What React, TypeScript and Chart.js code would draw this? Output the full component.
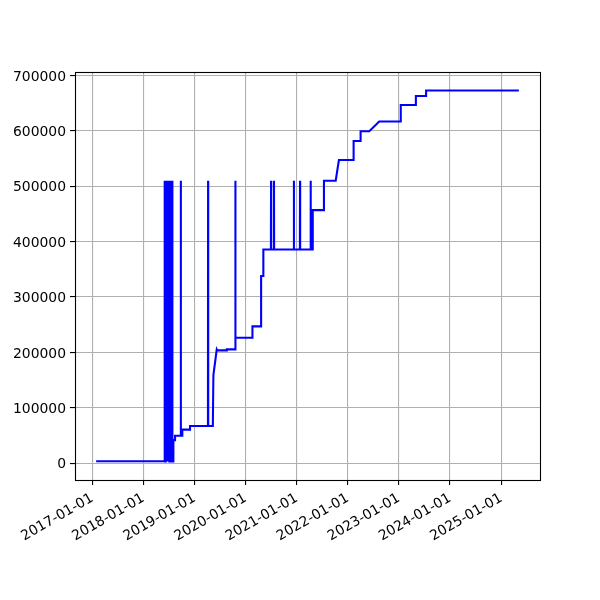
import React, { useEffect, useRef } from "react";
import { Chart, registerables } from "chart.js";

Chart.register(...registerables);

// Data points (date, value)
const dates: string[] = [
  "2017-01-28", "2018-05-31",
  "2018-06-02", "2018-06-05", "2018-06-08", "2018-06-11", "2018-06-14", "2018-06-17",
  "2018-06-20", "2018-06-23", "2018-06-26", "2018-06-29", "2018-07-02", "2018-07-05",
  "2018-07-08", "2018-07-11", "2018-07-14", "2018-07-17", "2018-07-20", "2018-07-23",
  "2018-07-25", "2018-07-27",
  "2018-08-03", "2018-08-03", "2018-08-15", "2018-08-15",
  "2018-09-24", "2018-09-25", "2018-09-26",
  "2018-10-06", "2018-10-06", "2018-11-30", "2018-11-30",
  "2019-04-07", "2019-04-08", "2019-04-09",
  "2019-05-12", "2019-05-16", "2019-06-09", "2019-06-13",
  "2019-08-20", "2019-08-20",
  "2019-10-19", "2019-10-20", "2019-10-21",
  "2020-02-19", "2020-02-19", "2020-04-21", "2020-04-21", "2020-05-07", "2020-05-07",
  "2020-06-30", "2020-07-01", "2020-07-02",
  "2020-07-21", "2020-07-22", "2020-07-23",
  "2020-12-10", "2020-12-11", "2020-12-12",
  "2021-01-23", "2021-01-24", "2021-01-25",
  "2021-04-09", "2021-04-10", "2021-04-11",
  "2021-04-25", "2021-04-25",
  "2021-07-14", "2021-07-14",
  "2021-10-06", "2021-10-29",
  "2022-02-11", "2022-02-11",
  "2022-04-02", "2022-04-02",
  "2022-06-03", "2022-08-13",
  "2023-01-14", "2023-01-14",
  "2023-05-02", "2023-05-02",
  "2023-07-14", "2023-07-14",
  "2025-05-07",
];

const values: number[] = [
  3500, 3500,
  510000, 3000, 510000, 3000, 510000, 3000,
  510000, 3000, 510000, 3000, 510000, 3000,
  510000, 3000, 510000, 3000, 510000, 3000,
  510000, 3000,
  3000, 41600, 41600, 49300,
  49300, 510000, 49300,
  49300, 60500, 60500, 66900,
  66900, 510000, 66900,
  66900, 159000, 205500, 203600,
  203600, 205500,
  205500, 510000, 226500,
  226500, 247000, 247000, 338000, 338000, 386000,
  386000, 510000, 386000,
  386000, 510000, 386000,
  386000, 510000, 386000,
  386000, 510000, 386000,
  386000, 510000, 386000,
  386000, 457000,
  457000, 510000,
  510000, 547600,
  547600, 582000,
  582000, 599500,
  599500, 617000,
  617000, 647000,
  647000, 663300,
  663300, 673000,
  673000,
];

const xTickLabels: string[] = [
  "2017-01-01", "2018-01-01", "2019-01-01", "2020-01-01", "2021-01-01",
  "2022-01-01", "2023-01-01", "2024-01-01", "2025-01-01",
];

const yTickValues: number[] = [0, 100000, 200000, 300000, 400000, 500000, 600000, 700000];

const toMs = (s: string) => Date.parse(s + "T00:00:00Z");
const fmt = (ms: number) => new Date(ms).toISOString().slice(0, 10);

export default function App() {
  const ref = useRef<HTMLCanvasElement>(null);

  useEffect(() => {
    document.body.style.margin = "0";
    const canvas = ref.current;
    if (!canvas) return;

    const xs = dates.map(toMs);
    const xMin = Math.min(...xs);
    const xMax = Math.max(...xs);
    const xPad = (xMax - xMin) * 0.05;
    const yMin = Math.min(...values);
    const yMax = Math.max(...values);
    const yPad = (yMax - yMin) * 0.05;

    const points = xs.map((x, i) => ({ x, y: values[i] }));

    const frame = {
      id: "frame",
      afterDatasetsDraw(chart: any) {
        const { ctx, chartArea: a } = chart;
        ctx.save();
        ctx.strokeStyle = "#000";
        ctx.lineWidth = 1.1;
        ctx.strokeRect(
          Math.round(a.left) + 0.5,
          Math.round(a.top) + 0.5,
          Math.round(a.right - a.left),
          Math.round(a.bottom - a.top)
        );
        ctx.restore();
      },
    };

    Chart.defaults.font.family = "'DejaVu Sans', sans-serif";
    Chart.defaults.font.size = 13.9;
    Chart.defaults.color = "#000";

    const gridOpts = {
      color: "#b0b0b0",
      lineWidth: 1.1,
      tickColor: "#000",
      tickLength: 5,
      tickWidth: 1.1,
    };

    const chart = new Chart(canvas, {
      type: "line",
      data: {
        datasets: [
          {
            data: points,
            borderColor: "#0000ff",
            borderWidth: 2.08,
            pointRadius: 0,
            tension: 0,
            fill: false,
          },
        ],
      },
      options: {
        responsive: false,
        animation: false,
        layout: { padding: { top: 72, right: 60, left: 0, bottom: 0 } },
        plugins: { legend: { display: false }, tooltip: { enabled: false } },
        scales: {
          x: {
            type: "linear",
            min: xMin - xPad,
            max: xMax + xPad,
            afterBuildTicks: (s: any) => {
              s.ticks = xTickLabels.map((t) => ({ value: toMs(t) }));
            },
            afterFit: (s: any) => {
              s.height = 120;
            },
            grid: gridOpts,
            border: { display: false },
            ticks: {
              autoSkip: false,
              maxRotation: 30,
              minRotation: 30,
              padding: 5,
              callback: (v: any) => fmt(Number(v)),
            },
          },
          y: {
            type: "linear",
            min: yMin - yPad,
            max: yMax + yPad,
            afterBuildTicks: (s: any) => {
              s.ticks = yTickValues.map((v) => ({ value: v }));
            },
            afterFit: (s: any) => {
              s.width = 75;
            },
            grid: gridOpts,
            border: { display: false },
            ticks: {
              padding: 4,
              labelOffset: 1.5,
              callback: (v: any) => String(v),
            },
          },
        },
      },
      plugins: [frame],
    });

    return () => chart.destroy();
  }, []);

  return (
    <div style={{ width: 600, height: 600 }}>
      <canvas ref={ref} width={600} height={600} />
    </div>
  );
}
